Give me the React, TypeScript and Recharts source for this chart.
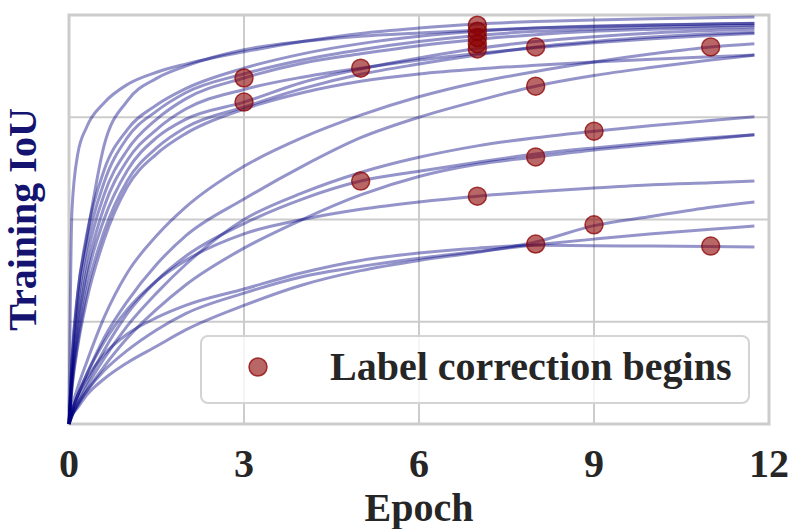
import React from 'react';
import {
  ComposedChart, Line, Scatter, XAxis, YAxis, CartesianGrid, ReferenceArea, Legend, Label,
} from 'recharts';

const epochs = [0, 0.05, 0.15, 0.3, 0.6, 1, 1.5, 2, 3, 4, 5, 6, 7, 8, 9, 10, 11, 11.75];

// training IoU per run, one value per epoch above
const runA = [0, 0.52, 0.66, 0.725, 0.785, 0.83, 0.86, 0.88, 0.91, 0.935, 0.955, 0.968, 0.978, 0.984, 0.988, 0.991, 0.993, 0.995];
const runB = [0, 0.15, 0.32, 0.45, 0.68, 0.79, 0.845, 0.875, 0.915, 0.935, 0.948, 0.956, 0.963, 0.968, 0.972, 0.975, 0.978, 0.98];
const runU1 = [0, 0.16, 0.32, 0.46, 0.62, 0.72, 0.78, 0.82, 0.87, 0.905, 0.93, 0.948, 0.96, 0.968, 0.973, 0.976, 0.978, 0.979];
const runU2 = [0, 0.14, 0.29, 0.43, 0.59, 0.7, 0.765, 0.81, 0.856, 0.89, 0.915, 0.935, 0.95, 0.96, 0.966, 0.97, 0.973, 0.975];
const runU3 = [0, 0.12, 0.26, 0.4, 0.56, 0.67, 0.745, 0.795, 0.846, 0.882, 0.905, 0.925, 0.94, 0.952, 0.96, 0.965, 0.969, 0.971];
const runU4 = [0, 0.11, 0.24, 0.37, 0.53, 0.645, 0.72, 0.77, 0.818, 0.848, 0.87, 0.89, 0.906, 0.92, 0.932, 0.942, 0.95, 0.955];
const runU5 = [0, 0.1, 0.22, 0.35, 0.5, 0.62, 0.7, 0.745, 0.787, 0.835, 0.868, 0.895, 0.918, 0.935, 0.947, 0.956, 0.962, 0.965];
const runU6 = [0, 0.09, 0.2, 0.32, 0.47, 0.595, 0.675, 0.725, 0.775, 0.82, 0.855, 0.88, 0.902, 0.922, 0.935, 0.946, 0.954, 0.958];
const runU7 = [0, 0.085, 0.19, 0.3, 0.45, 0.58, 0.66, 0.71, 0.77, 0.81, 0.838, 0.856, 0.868, 0.877, 0.885, 0.892, 0.898, 0.902];
const runM1 = [0, 0.04, 0.09, 0.15, 0.26, 0.37, 0.46, 0.53, 0.63, 0.7, 0.755, 0.8, 0.835, 0.862, 0.885, 0.905, 0.922, 0.93];
const runM2 = [0, 0.03, 0.07, 0.12, 0.21, 0.3, 0.39, 0.46, 0.55, 0.63, 0.7, 0.75, 0.79, 0.826, 0.852, 0.872, 0.89, 0.902];
const runM3 = [0, 0.02, 0.05, 0.09, 0.16, 0.24, 0.32, 0.39, 0.5, 0.565, 0.615, 0.652, 0.68, 0.7, 0.716, 0.73, 0.742, 0.751];
const runM4 = [0, 0.02, 0.045, 0.08, 0.14, 0.21, 0.28, 0.34, 0.43, 0.5, 0.56, 0.605, 0.635, 0.653, 0.67, 0.684, 0.697, 0.707];
const runM5 = [0, 0.025, 0.06, 0.1, 0.18, 0.27, 0.35, 0.41, 0.49, 0.55, 0.594, 0.618, 0.64, 0.66, 0.675, 0.688, 0.7, 0.707];
const runM6 = [0, 0.03, 0.07, 0.12, 0.2, 0.28, 0.35, 0.4, 0.465, 0.5, 0.525, 0.543, 0.557, 0.568, 0.577, 0.585, 0.59, 0.594];
const runL1 = [0, 0.03, 0.07, 0.11, 0.17, 0.22, 0.26, 0.29, 0.33, 0.37, 0.4, 0.418, 0.43, 0.437, 0.436, 0.435, 0.434, 0.433];
const runL2 = [0, 0.02, 0.05, 0.08, 0.13, 0.18, 0.23, 0.27, 0.32, 0.36, 0.385, 0.405, 0.422, 0.438, 0.452, 0.465, 0.476, 0.484];
const runL3 = [0, 0.02, 0.04, 0.07, 0.11, 0.15, 0.19, 0.23, 0.29, 0.34, 0.375, 0.4, 0.42, 0.445, 0.485, 0.508, 0.53, 0.543];

const runs = [runA, runB, runU1, runU2, runU3, runU4, runU5, runU6, runU7,
  runM1, runM2, runM3, runM4, runM5, runM6, runL1, runL2, runL3];

// where label correction kicks in for each run
const correctionEpochs = [3, 3, 5, 5, 7, 7, 7, 7, 7, 7, 8, 8, 8, 8, 9, 9, 11, 11];
const correctionIoU = [0.846, 0.787, 0.87, 0.594, 0.975, 0.96, 0.945, 0.93, 0.917, 0.557, 0.922, 0.826, 0.653, 0.44, 0.716, 0.487, 0.922, 0.435];

const xTicks = [0, 3, 6, 9, 12];
const yTicks = [0, 0.25, 0.5, 0.75, 1];

const rows = epochs.map((epoch, i) => {
  const row: Record<string, number> = { epoch };
  runs.forEach((r, j) => { row[`r${j}`] = r[i]; });
  return row;
});
const dots = correctionEpochs.map((epoch, i) => ({ epoch, iou: correctionIoU[i] }));

const FONT = '"Liberation Serif", "Times New Roman", serif';
const DOT_FILL = '#8B0000';

const Dot = (props: any) => (
  <circle cx={props.cx} cy={props.cy} r={9} fill={DOT_FILL} fillOpacity={0.6}
    stroke={DOT_FILL} strokeOpacity={0.75} strokeWidth={1.5} />
);

const LegendBox = () => (
  <div style={{
    boxSizing: 'border-box', width: 550, height: 69, border: '2px solid #d4d4d4', borderRadius: 8,
    background: 'rgba(255,255,255,0.8)', display: 'flex', alignItems: 'center', paddingBottom: 6,
  }}>
    <svg width={22} height={22} style={{ marginLeft: 45, marginRight: 61 }}>
      <circle cx={11} cy={11} r={9} fill={DOT_FILL} fillOpacity={0.6} stroke={DOT_FILL} strokeOpacity={0.75} strokeWidth={1.5} />
    </svg>
    <span style={{ fontFamily: FONT, fontWeight: 'bold', fontSize: 40, color: '#262626', whiteSpace: 'nowrap' }}>
      Label correction begins
    </span>
  </div>
);

const NoTick = () => <g />;

export default function App() {
  return (
    <div style={{ position: 'absolute', left: 0, top: 0 }}>
      <ComposedChart width={790} height={529} data={rows} margin={{ top: 15, right: 21, left: 0, bottom: 0 }}>
        <CartesianGrid stroke="#cccccc" strokeWidth={2} />
        <ReferenceArea x1={0} x2={12} y1={0} y2={1} fill="none" stroke="#cccccc" strokeWidth={3} ifOverflow="visible" />
        <XAxis type="number" dataKey="epoch" domain={[0, 12]} ticks={xTicks} height={105}
          axisLine={false} tickLine={false} tickMargin={19}
          tick={{ fontFamily: FONT, fontWeight: 'bold', fontSize: 40, fill: '#262626' }}>
          <Label content={(p: any) => (
            <text x={p.viewBox.x + p.viewBox.width / 2} y={521} textAnchor="middle"
              fontFamily={FONT} fontWeight="bold" fontSize={40} fill="#262626">Epoch</text>
          )} />
        </XAxis>
        <YAxis type="number" domain={[0, 1]} ticks={yTicks} width={69}
          tick={NoTick} axisLine={false} tickLine={false}>
          <Label content={(p: any) => {
            const cy = p.viewBox.y + p.viewBox.height / 2;
            return (
              <text x={36} y={cy} transform={`rotate(-90 36 ${cy})`} textAnchor="middle"
                fontFamily={FONT} fontWeight="bold" fontSize={40} fill="#141470">Training IoU</text>
            );
          }} />
        </YAxis>
        {runs.map((_, j) => (
          <Line key={j} type="monotone" dataKey={`r${j}`} stroke="#000080" strokeOpacity={0.42}
            strokeWidth={3} dot={false} activeDot={false} isAnimationActive={false} />
        ))}
        <Scatter data={dots} dataKey="iou" shape={Dot} isAnimationActive={false} legendType="circle" />
        <Legend layout="horizontal" verticalAlign="middle" align="center"
          wrapperStyle={{ left: 200, top: 335, width: 550, height: 69 }} content={() => <LegendBox />} />
      </ComposedChart>
    </div>
  );
}
